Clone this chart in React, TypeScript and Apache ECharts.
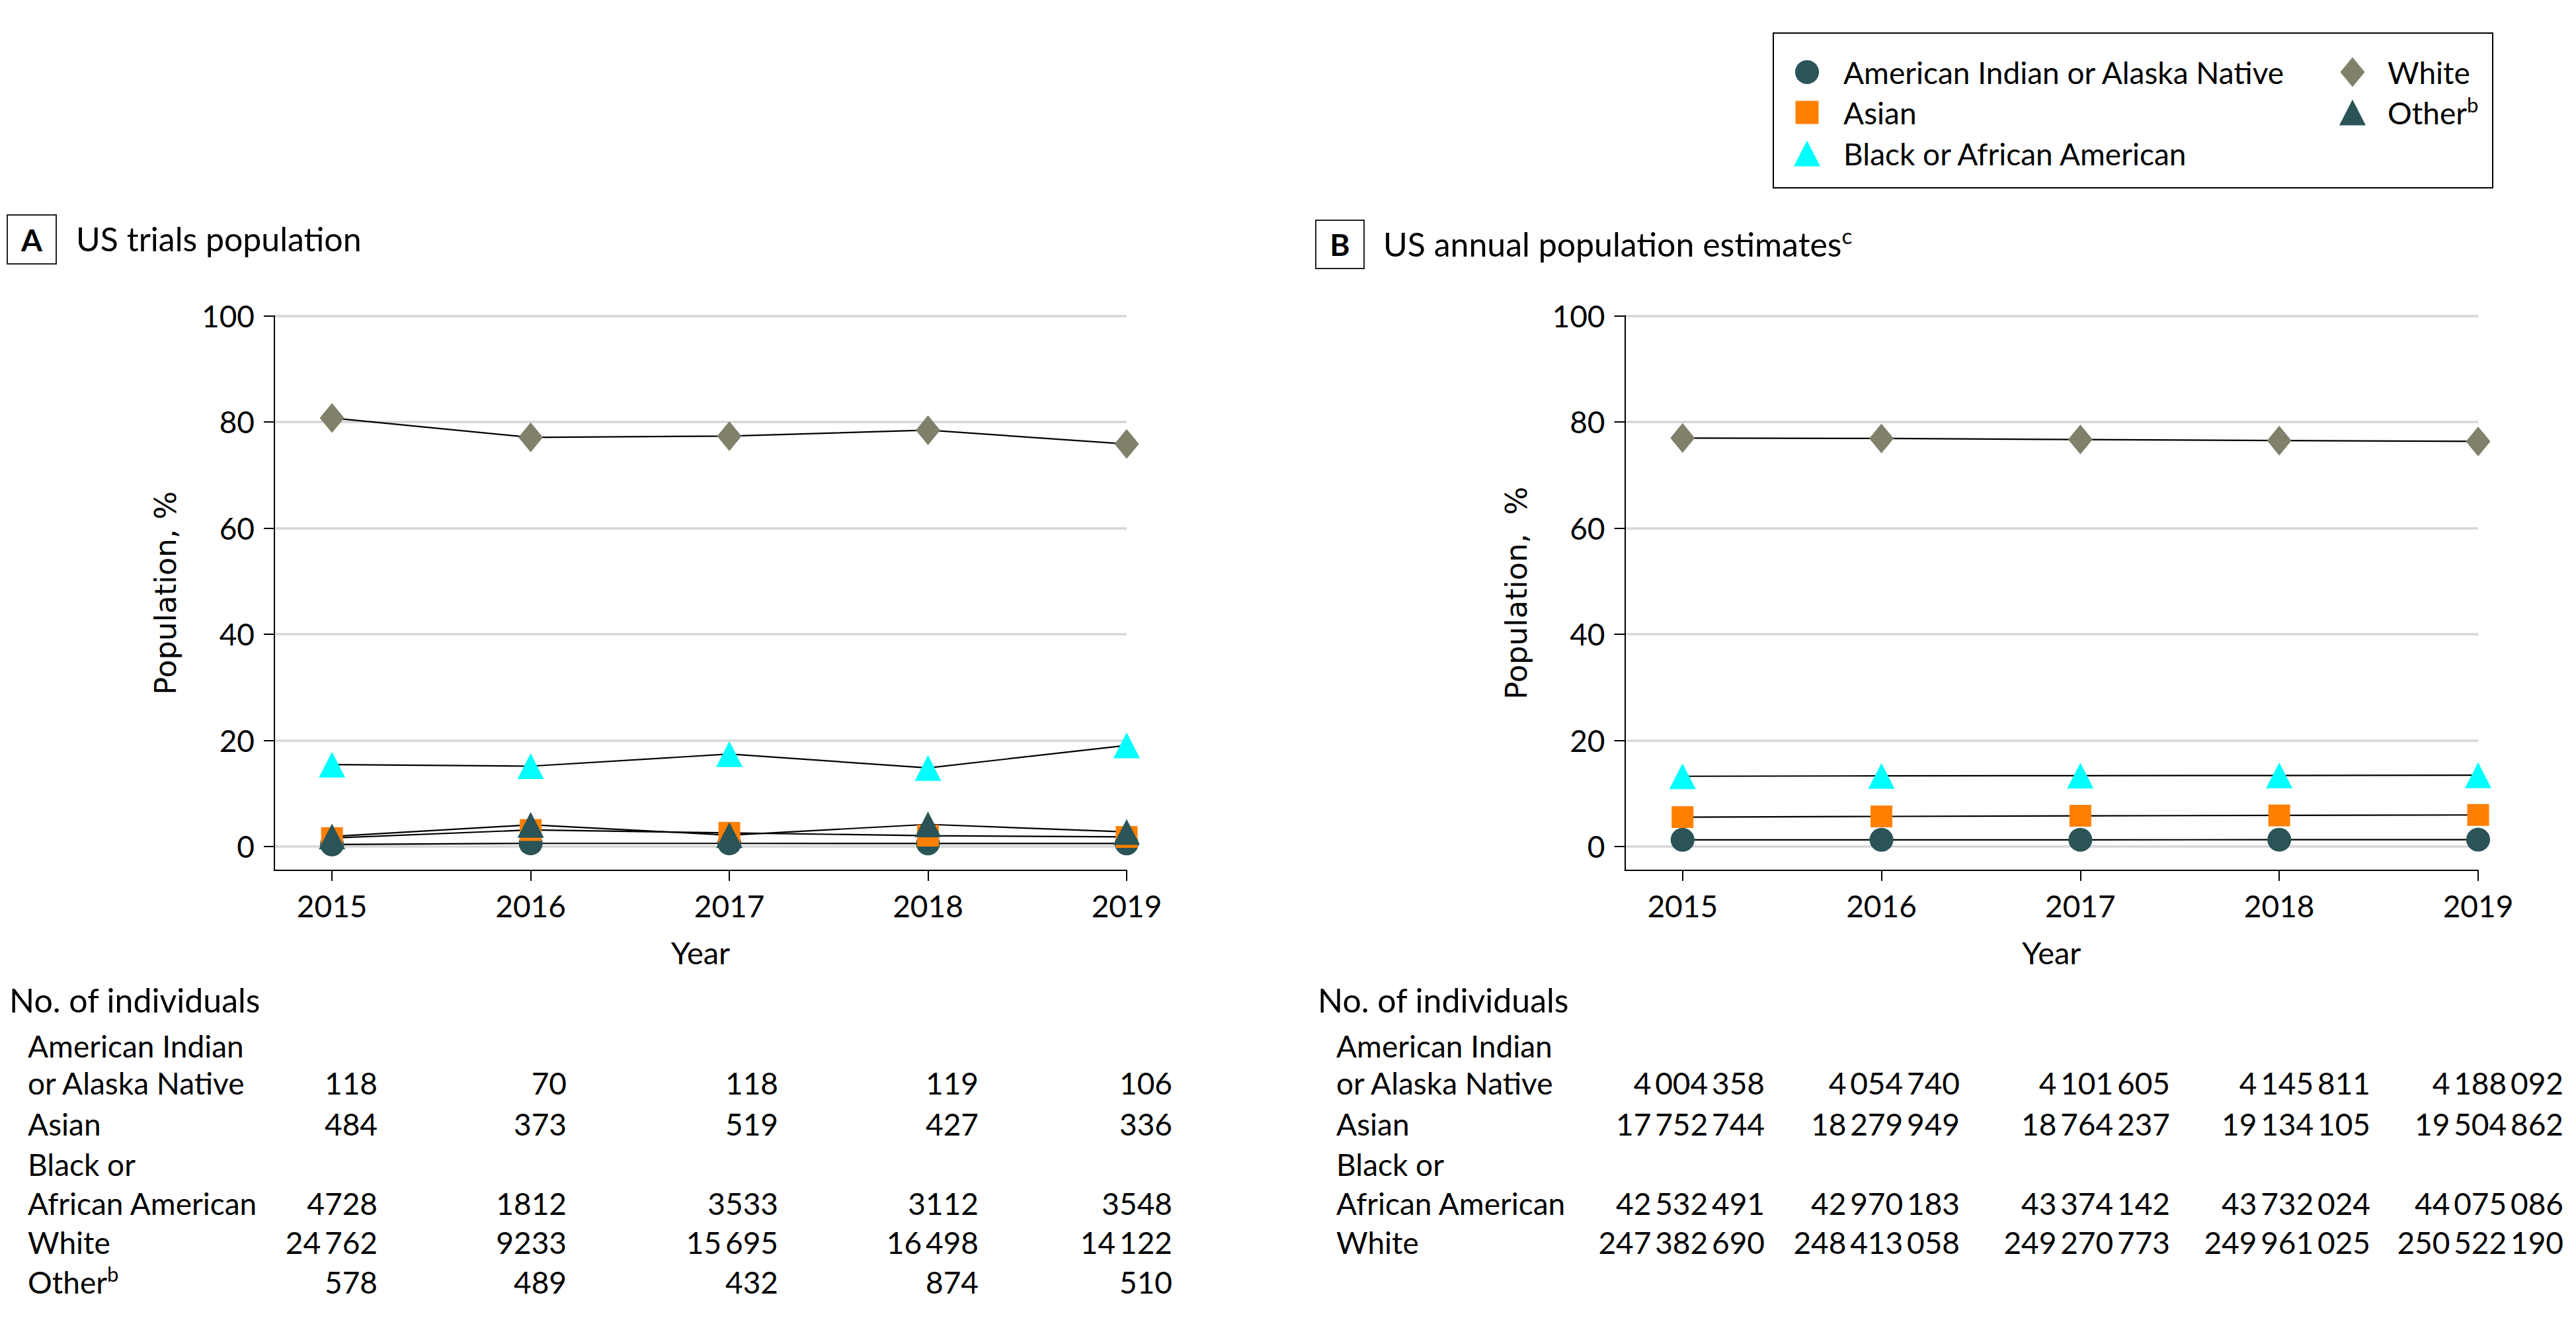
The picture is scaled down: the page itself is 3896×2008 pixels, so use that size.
import React, { useEffect, useRef } from "react";
import * as echarts from "echarts";

// ---------------- data ----------------
const years = [2015, 2016, 2017, 2018, 2019];
const yTickValues = [0, 20, 40, 60, 80, 100];

// Panel A: US trials population, % of participants
const trialsAIAN = [0.38, 0.58, 0.58, 0.57, 0.57];
const trialsAsian = [1.58, 3.11, 2.56, 2.03, 1.8];
const trialsBlack = [15.42, 15.13, 17.41, 14.8, 19.05];
const trialsWhite = [80.74, 77.09, 77.33, 78.45, 75.84];
const trialsOther = [1.88, 4.08, 2.13, 4.16, 2.74];

// Panel B: US annual population estimates, %
const usAIAN = [1.25, 1.25, 1.26, 1.27, 1.28];
const usAsian = [5.52, 5.66, 5.77, 5.85, 5.94];
const usBlack = [13.23, 13.3, 13.34, 13.38, 13.43];
const usWhite = [76.97, 76.89, 76.68, 76.49, 76.33];

// No. of individuals (tables)
const trialsCountAIAN = [118, 70, 118, 119, 106];
const trialsCountAsian = [484, 373, 519, 427, 336];
const trialsCountBlack = [4728, 1812, 3533, 3112, 3548];
const trialsCountWhite = [24762, 9233, 15695, 16498, 14122];
const trialsCountOther = [578, 489, 432, 874, 510];

const usCountAIAN = [4004358, 4054740, 4101605, 4145811, 4188092];
const usCountAsian = [17752744, 18279949, 18764237, 19134105, 19504862];
const usCountBlack = [42532491, 42970183, 43374142, 43732024, 44075086];
const usCountWhite = [247382690, 248413058, 249270773, 249961025, 250522190];

const seriesNames = [
  "American Indian or Alaska Native",
  "Asian",
  "Black or African American",
  "White",
  "Other",
];

// ---------------- styles ----------------
const FONT = "Lato, 'Noto Sans', sans-serif";
const YFONT = "'DejaVu Sans', Verdana, sans-serif";
const C_AIAN = "#2a5457";
const C_ASIAN = "#ff8000";
const C_BLACK = "#00ffff";
const C_WHITE = "#80806b";
const C_OTHER = "#2a5457";

const SYM = {
  circle: { symbol: "circle", size: 36 },
  rect: { symbol: "rect", size: 33 },
  triangle: { symbol: "triangle", size: [40, 39] },
  diamond: { symbol: "diamond", size: [37, 45] },
};

function fmt(n: number): string {
  const s = String(n);
  if (s.length <= 4) return s;
  let out = "";
  for (let i = 0; i < s.length; i++) {
    const fromRight = s.length - i;
    out += s[i];
    if (fromRight > 1 && (fromRight - 1) % 3 === 0) out += "\u2009";
  }
  return out;
}

function lineSeries(name: string, values: number[], idx: number, sym: any, color: string) {
  return {
    type: "line",
    name,
    xAxisIndex: idx,
    yAxisIndex: idx,
    data: years.map((y, i) => [y, values[i]]),
    symbol: sym.symbol,
    symbolSize: sym.size,
    itemStyle: { color, opacity: 1 },
    lineStyle: { color: "#000", width: 2.2 },
    clip: false,
    silent: true,
    emphasis: { disabled: true },
  };
}

function xAxisOf(idx: number) {
  return {
    type: "value",
    gridIndex: idx,
    min: 2014.71,
    max: 2019,
    axisLine: { show: true, onZero: false, lineStyle: { color: "#000", width: 2 } },
    axisTick: { show: true, customValues: years, length: 16, lineStyle: { color: "#000", width: 2 } },
    axisLabel: {
      customValues: years,
      formatter: (v: number) => String(v),
      fontFamily: FONT,
      fontSize: 46,
      color: "#000",
      margin: 30,
    },
    splitLine: { show: false },
    name: "Year",
    nameLocation: "middle",
    nameGap: 100,
    nameTextStyle: { fontFamily: FONT, fontSize: 47, color: "#000" },
  };
}

function yAxisOf(idx: number, name: string) {
  return {
    type: "value",
    gridIndex: idx,
    min: -4.5,
    max: 100,
    axisLine: { show: true, onZero: false, lineStyle: { color: "#000", width: 2 } },
    axisTick: { show: true, customValues: yTickValues, length: 16, lineStyle: { color: "#000", width: 2 } },
    axisLabel: {
      customValues: yTickValues,
      formatter: (v: number) => String(v),
      fontFamily: FONT,
      fontSize: 46,
      color: "#000",
      margin: 30,
    },
    splitLine: { show: true, lineStyle: { color: "#d6d6d6", width: 3.5 } },
    name,
    nameLocation: "middle",
    nameGap: 142,
    nameTextStyle: { fontFamily: YFONT, fontSize: 45, color: "#000" },
  };
}

function txt(x: number, y: number, text: string, size: number, align = "left", extra: any = {}) {
  return {
    type: "text",
    x,
    y,
    silent: true,
    style: {
      text,
      fill: "#000",
      fontFamily: FONT,
      fontSize: size,
      align,
      verticalAlign: "middle",
      textAlign: align,
      textVerticalAlign: "middle",
      ...extra,
    },
  };
}

function supTxt(x: number, y: number, main: string, sup: string, size: number, supSize: number) {
  return {
    type: "text",
    x,
    y,
    silent: true,
    style: {
      text: `{m|${main}}{s|${sup}}`,
      align: "left",
      verticalAlign: "middle",
      textAlign: "left",
      textVerticalAlign: "middle",
      fill: "#000",
      rich: {
        m: { fontFamily: FONT, fontSize: size, fill: "#000", lineHeight: Math.round(size * 1.2), verticalAlign: "middle" },
        s: { fontFamily: FONT, fontSize: supSize, fill: "#000", lineHeight: Math.round(supSize * 1.05), verticalAlign: "top" },
      },
    },
  };
}

function buildGraphics() {
  const g: any[] = [];
  // Panel labels
  g.push({ type: "rect", shape: { x: 11, y: 325, width: 74, height: 74 }, style: { fill: "none", stroke: "#222", lineWidth: 2 }, silent: true });
  g.push(txt(48, 362, "A", 46, "center", { fontWeight: "bold" }));
  g.push(txt(115, 361, "US trials population", 50));
  g.push({ type: "rect", shape: { x: 1990, y: 333, width: 73, height: 73 }, style: { fill: "none", stroke: "#222", lineWidth: 2 }, silent: true });
  g.push(txt(2026.5, 369.5, "B", 46, "center", { fontWeight: "bold" }));
  g.push(supTxt(2092, 369, "US annual population estimates", "c", 50, 33));

  // Legend
  g.push({ type: "rect", shape: { x: 2682, y: 50, width: 1088, height: 234 }, style: { fill: "none", stroke: "#000", lineWidth: 2 }, silent: true });
  const rows = [109, 170, 232];
  const c1 = 2733;
  const c2 = 3558;
  g.push({ type: "circle", shape: { cx: c1, cy: rows[0], r: 18 }, style: { fill: C_AIAN }, silent: true });
  g.push({ type: "rect", shape: { x: c1 - 17.5, y: rows[1] - 17.5, width: 35, height: 35 }, style: { fill: C_ASIAN }, silent: true });
  g.push({ type: "polygon", shape: { points: [[c1 - 20, rows[2] + 19.5], [c1 + 20, rows[2] + 19.5], [c1, rows[2] - 19.5]] }, style: { fill: C_BLACK }, silent: true });
  g.push({ type: "polygon", shape: { points: [[c2, rows[0] - 22.5], [c2 + 18.5, rows[0]], [c2, rows[0] + 22.5], [c2 - 18.5, rows[0]]] }, style: { fill: C_WHITE }, silent: true });
  g.push({ type: "polygon", shape: { points: [[c2 - 20, rows[1] + 19.5], [c2 + 20, rows[1] + 19.5], [c2, rows[1] - 19.5]] }, style: { fill: C_OTHER }, silent: true });
  g.push(txt(2788, rows[0], seriesNames[0], 46));
  g.push(txt(2788, rows[1], seriesNames[1], 46));
  g.push(txt(2788, rows[2], seriesNames[2], 46));
  g.push(txt(3611, rows[0], seriesNames[3], 46));
  g.push(supTxt(3611, rows[1], seriesNames[4], "b", 46, 31));

  // Tables
  const rowY = { header: 1512, l1: 1581, aian: 1637, asian: 1699, l2: 1760, black: 1819, white: 1878, other: 1938 };
  const colA = [571, 857, 1177, 1480, 1773];
  const colB = [2669, 2964, 3282, 3585, 3877];

  const table = (x0: number, labelX: number, cols: number[], rowsData: { y: number; vals: number[] }[], hasOther: boolean) => {
    g.push(txt(x0, rowY.header, "No. of individuals", 50));
    g.push(txt(labelX, rowY.l1, "American Indian", 46));
    g.push(txt(labelX, rowY.aian, "or Alaska Native", 46));
    g.push(txt(labelX, rowY.asian, "Asian", 46));
    g.push(txt(labelX, rowY.l2, "Black or", 46));
    g.push(txt(labelX, rowY.black, "African American", 46));
    g.push(txt(labelX, rowY.white, "White", 46));
    if (hasOther) g.push(supTxt(labelX, rowY.other, "Other", "b", 46, 31));
    rowsData.forEach((r) => {
      r.vals.forEach((v, i) => g.push(txt(cols[i], r.y, fmt(v), 46, "right")));
    });
  };

  table(14, 42, colA, [
    { y: rowY.aian, vals: trialsCountAIAN },
    { y: rowY.asian, vals: trialsCountAsian },
    { y: rowY.black, vals: trialsCountBlack },
    { y: rowY.white, vals: trialsCountWhite },
    { y: rowY.other, vals: trialsCountOther },
  ], true);

  table(1993, 2021, colB, [
    { y: rowY.aian, vals: usCountAIAN },
    { y: rowY.asian, vals: usCountAsian },
    { y: rowY.black, vals: usCountBlack },
    { y: rowY.white, vals: usCountWhite },
  ], false);

  return g;
}

function buildOption() {
  return {
    animation: false,
    backgroundColor: "#ffffff",
    grid: [
      { left: 415, top: 477.5, width: 1289, height: 838.5, containLabel: false, outerBoundsMode: "none" },
      { left: 2457.5, top: 477.5, width: 1290.5, height: 838.5, containLabel: false, outerBoundsMode: "none" },
    ],
    xAxis: [xAxisOf(0), xAxisOf(1)],
    yAxis: [yAxisOf(0, "Population, %"), yAxisOf(1, "Population,\u00a0 %")],
    series: [
      lineSeries(seriesNames[0], trialsAIAN, 0, SYM.circle, C_AIAN),
      lineSeries(seriesNames[1], trialsAsian, 0, SYM.rect, C_ASIAN),
      lineSeries(seriesNames[2], trialsBlack, 0, SYM.triangle, C_BLACK),
      lineSeries(seriesNames[3], trialsWhite, 0, SYM.diamond, C_WHITE),
      lineSeries(seriesNames[4], trialsOther, 0, SYM.triangle, C_OTHER),
      lineSeries(seriesNames[0], usAIAN, 1, SYM.circle, C_AIAN),
      lineSeries(seriesNames[1], usAsian, 1, SYM.rect, C_ASIAN),
      lineSeries(seriesNames[2], usBlack, 1, SYM.triangle, C_BLACK),
      lineSeries(seriesNames[3], usWhite, 1, SYM.diamond, C_WHITE),
    ],
    graphic: { elements: buildGraphics() },
  };
}

export default function App() {
  const ref = useRef<HTMLDivElement>(null);
  useEffect(() => {
    document.body.style.margin = "0";
    const chart = echarts.init(ref.current as HTMLDivElement, null, { renderer: "svg" });
    chart.setOption(buildOption() as any);
    return () => chart.dispose();
  }, []);
  return (
    <div
      ref={ref}
      style={{ position: "absolute", left: 0, top: 0, width: 3896, height: 2008, background: "#fff" }}
    />
  );
}
